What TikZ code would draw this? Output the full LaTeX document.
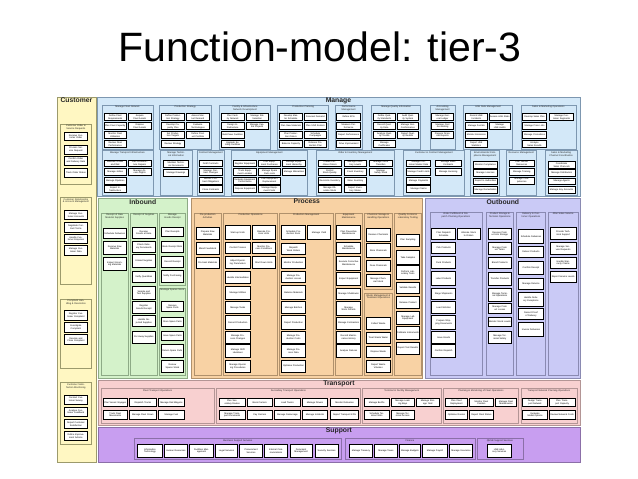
\documentclass[tikz,border=0pt]{standalone}
\usepackage{fontspec}
\setmainfont{Liberation Sans}
\definecolor{custfill}{HTML}{FFF7C2}
\definecolor{custline}{HTML}{9C9A6C}
\definecolor{manfill}{HTML}{D3E8F8}
\definecolor{manline}{HTML}{7D97B0}
\definecolor{inbfill}{HTML}{D4F2CA}
\definecolor{inbline}{HTML}{8DAA86}
\definecolor{profill}{HTML}{F8D2A4}
\definecolor{proline}{HTML}{B0916C}
\definecolor{outbfill}{HTML}{CACAF6}
\definecolor{outbline}{HTML}{8A8AB2}
\definecolor{trafill}{HTML}{F8D0D0}
\definecolor{traline}{HTML}{B39595}
\definecolor{supfill}{HTML}{C89EF0}
\definecolor{supline}{HTML}{8B6FA8}
\newcommand\boxfont{\fontsize{2.3}{2.6}\selectfont}
\newcommand\gfont{\fontsize{2.4}{2.8}\selectfont}
\def\custmode{0}
\newcommand\ymap[2]{%
  \pgfmathparse{#2}\let\qv\pgfmathresult
  \ifnum\custmode=1
    \pgfmathsetmacro#1{97+(\qv-99)*1.116}%
  \else
    \pgfmathsetmacro#1{\qv<=218.5 ? 97+(\qv-99)*0.839 : (\qv<=351.5 ? 198+(\qv-220)*1.385 : (\qv<=396 ? 380+(\qv-353)*1.071 : 427+(\qv-397)*1.167))}%
  \fi}
\newcommand\N[7][]{%
  \pgfmathsetmacro\qxa{57+(#3-59)*1.0215}%
  \pgfmathsetmacro\qxb{57+(#5-59)*1.0215}%
  \ymap\qya{#4}\ymap\qyb{#6}%
  \pgfmathsetmacro\qw{\qxb-\qxa}%
  \pgfmathsetmacro\qh{\qyb-\qya}%
  \pgfmathsetmacro\qx{(\qxa+\qxb)/2}%
  \pgfmathsetmacro\qy{(\qya+\qyb)/2}%
  \pgfmathsetmacro\qt{max(\qw-1.4,1)}%
  \node[#1, minimum width=\qw pt, minimum height=\qh pt, text width=\qt pt] (#2) at (\qx,\qy) {#7};%
}
\newcommand\Band[8]{%
  \N[band, fill=#7, draw=#8]{#1}{#2}{#3}{#4}{#5}{}%
  \node[blab, anchor=north] (#1t) at ([yshift=-1.3pt]#1.north) {#6};%
}
\newcommand\G[6]{%
  \N[grp]{#1}{#2}{#3}{#4}{#5}{}%
  \pgfmathsetmacro\qt{\qw-2.5}%
  \node[gttl, text width=\qt pt, anchor=north] (#1t) at ([yshift=-0.9pt]#1.north) {#6};%
}
\newcommand\Stack[7]{\foreach \tx [count=\ii] in {#7} {\pgfmathsetmacro\ya{#4+(\ii-1)*#5}\pgfmathsetmacro\yb{\ya+#6}\N[bx]{#1\ii}{#2}{\ya}{#3}{\yb}{\tx}}}
\newcommand\Col[4]{\foreach \ya/\yb/\tx [count=\ii] in {#4} {\N[bx]{#1\ii}{#2}{\ya}{#3}{\yb}{\tx}}}
\newcommand\Row[4]{\foreach \xa/\xb/\tx [count=\ii] in {#4} {\N[bx]{#1\ii}{\xa}{#2}{\xb}{#3}{\tx}}}
\begin{document}
\begin{tikzpicture}[x=1pt,y=-1pt,
  band/.style={line width=0.6pt, inner sep=0},
  grp/.style={draw=\gc, line width=0.5pt, inner sep=0},
  bx/.style={draw=black, fill=white, line width=0.8pt, inner sep=0.2pt, align=center, font=\boxfont},
  gttl/.style={font=\gfont, align=center, inner sep=0, text=black!85},
  blab/.style={font=\bfseries\fontsize{6.8}{7}\selectfont, inner sep=0, text=black!85},
  ttl/.style={font=\fontsize{41}{48}\selectfont, inner sep=0}]
\useasboundingbox (0,0) rectangle (638,479);
\fill[white] (0,0) rectangle (638,479);
\node[ttl] (title) at (320,47) {Function-model: tier-3};

% ---------------- Customer
\def\custmode{1}
\Band{cust}{59}{99}{97}{426}{Customer}{custfill}{custline}
\def\gc{custline}
\G{cg1}{62}{123}{93}{177}{Customer Order \& Service Requests}
\Col{cg1b}{66}{89}{131/138/Receive Customer Order, 142/150/Process Service Request, 152/160/Confirm Order and Delivery Date, 163/171/Track Order Status}
\G{cg2}{62}{189}{93}{267}{Customer Relationship \& Account Management}
\Col{cg2b}{66}{89}{201/209/Manage Customer Accounts, 211/220/Negotiate Contract Terms, 222/230/Handle Customer Enquiries, 232/241/Manage Customer Data}
\G{cg3}{62}{280}{93}{342}{Complaint Handling \& Resolution}
\Col{cg3b}{66}{89}{290/299/Register Customer Complaint, 301/310/Investigate Complaint, 312/321/Resolve and Close Complaint}
\G{cg4}{62}{355}{93}{410}{Customer Satisfaction Monitoring}
\Col{cg4b}{66}{89}{366/374/Conduct Customer Survey, 377/385/Analyse Customer Feedback, 388/396/Report Customer Satisfaction, 399/407/Define Improvement Actions}
\def\custmode{0}

% ---------------- Manage
\Band{man}{98}{99}{571}{217}{Manage}{manfill}{manline}
\def\gc{manline}
\G{m1}{103}{109}{153}{161}{Manage Fleet Network}
\Stack{m1a}{105}{127}{119}{10.7}{8}{Define Fleet Requirements, Plan Fleet Capacity, Monitor Fleet Utilisation, Review Fleet Performance}
\Stack{m1b}{129}{151}{119}{10.7}{8}{Acquire Fleet Assets, Dispose Fleet Assets}
\G{m2}{159}{109}{210}{161}{Production Strategy}
\Stack{m2a}{161}{184}{119}{10.7}{8}{Define Production Strategy, Develop Capacity Plan, Set Production Targets, Review Strategy}
\Stack{m2b}{186}{208}{119}{10.7}{8}{Assess Market Demand, Evaluate Technologies, Define Product Portfolio}
\G{m3}{218}{109}{268}{161}{Facility \& Infrastructure Network Development}
\Stack{m3a}{220}{242}{119}{10.7}{8}{Plan Facility Network, Design Infrastructure, Build New Facilities, Upgrade Existing Facilities}
\Stack{m3b}{244}{266}{119}{10.7}{8}{Manage Site Selection, Manage Capital Projects}
\G{m4}{275}{109}{325}{161}{Production Planning}
\Stack{m4a}{277}{299}{119}{10.7}{8}{Develop Master Schedule, Plan Raw Materials, Plan Production Orders, Balance Capacity}
\Stack{m4b}{301}{323}{119}{10.7}{8}{Forecast Demand, Plan Shift Rosters, Schedule Campaigns, Release Production Plan}
\G{m5}{331}{109}{358}{161}{Performance Management}
\Stack{m5a}{333}{356}{119}{10.7}{8}{Define KPIs, Measure Performance, Report Performance, Drive Improvement}
\G{m6}{367}{109}{415}{161}{Manage Quality Information}
\Stack{m6a}{369}{390}{119}{10.7}{8}{Define Quality Standards, Record Quality Data, Analyse Quality Trends, Manage Certificates}
\Stack{m6b}{392}{413}{119}{10.7}{8}{Audit Quality System, Manage Non-Conformance, Report Quality Results}
\G{m7}{424}{109}{449}{161}{Accounting Management}
\Stack{m7a}{426}{447}{119}{10.7}{8}{Manage General Ledger, Manage Cost Accounting, Prepare Financial Reports}
\G{m8}{457}{109}{505}{161}{HSE Data Management}
\Stack{m8a}{459}{480}{119}{10.7}{8}{Record HSE Incidents, Manage Permits, Monitor Emissions, Report HSE Statistics}
\Stack{m8b}{482}{503}{119}{10.7}{8}{Assess HSE Risks, Manage HSE Audits}
\G{m9}{513}{109}{567}{161}{Sales \& Marketing Operations}
\Stack{m9a}{515}{538}{119}{10.7}{8}{Develop Sales Plan, Manage Price Lists, Manage Promotions, Analyse Sales Results}
\Stack{m9b}{541}{565}{119}{10.7}{8}{Manage Customer Segments}

\G{n1}{103}{163}{153}{216}{Manage Transport Infrastructure}
\Stack{n1a}{105}{127}{174}{10.3}{8.3}{Maintain Roads and Rail, Manage Jetties, Manage Pipelines, Inspect Infrastructure}
\Stack{n1b}{129}{151}{174}{10.3}{8.3}{Plan Infrastructure Repairs, Manage Access Rights}
\G{n2}{160}{163}{191}{216}{Manage Technical Information}
\Stack{n2a}{163}{188}{175}{10.3}{8.3}{Maintain Technical Documents, Manage Drawings}
\G{n3}{196}{163}{223}{216}{Contract Management}
\Stack{n3a}{198}{221}{174}{10.3}{8.3}{Draft Contracts, Manage Contract Changes, Monitor Contract Obligations, Close Contracts}
\G{n4}{230}{163}{304}{216}{Equipment Management}
\Stack{n4a}{232}{254}{174}{10.3}{8.3}{Register Equipment, Track Equipment Location, Evaluate Equipment Performance, Dispose Equipment}
\Stack{n4b}{256}{278}{174}{10.3}{8.3}{Plan Equipment Purchases, Manage Spare Parts Lists, Plan Equipment Replacement, Manage Equipment Costs}
\Stack{n4c}{280}{302}{174}{10.3}{8.3}{Manage Equipment Hierarchy, Manage Warranties}
\G{n5}{313}{163}{389}{216}{Order \& Inventory Management}
\Stack{n5a}{315}{337}{174}{10.3}{8.3}{Create Purchase Orders, Control Stock Quality, Reconcile Inventory, Manage Obsolete Stock}
\Stack{n5b}{340}{362}{174}{10.3}{8.3}{Manage Inventory Levels, Count Inventory, Value Inventory, Report Inventory Status}
\Stack{n5c}{365}{387}{174}{10.3}{8.3}{Manage Stock Transfers, Manage Safety Stock}
\G{n6}{398}{163}{458}{216}{Customer \& Contract Management}
\Stack{n6a}{401}{425}{174}{10.3}{8.3}{Manage Customer Master Data, Manage Credit Limits, Manage Payments, Manage Claims}
\Stack{n6b}{429}{455}{174}{10.3}{8.3}{Manage Sales Contracts, Manage Invoicing}
\G{n7}{464}{163}{492}{216}{Environmental Compliance Management}
\Stack{n7a}{467}{490}{176}{9.8}{8}{Monitor Compliance, Manage Licences, Report to Authorities, Manage Remediation}
\G{n8}{499}{163}{528}{216}{Resource Management}
\Stack{n8a}{502}{526}{174}{10.3}{8.3}{Plan Human Resources, Manage Training, Manage Competences}
\G{n9}{537}{163}{568}{216}{Sales \& Marketing Channel Coordination}
\Stack{n9a}{540}{566}{176}{9.8}{8}{Coordinate Sales Channels, Manage Distributors, Manage Agents, Manage Key Accounts}

% ---------------- Inbound
\Band{inb}{99}{220}{187}{350}{Inbound}{inbfill}{inbline}
\def\gc{inbline}
\G{i1}{102}{231}{129}{348}{Receipt of Raw Material Supplies}
\Col{i1b}{104}{127}{242/249/Schedule Deliveries, 251/261/Receive Raw Materials, 263/272/Inspect Incoming Materials}
\G{i2}{131}{231}{157}{348}{Receipt of Supplies}
\Col{i2b}{133}{155}{241/249/Receive Goods at Gate, 251/259/Check Delivery Documents, 261/270/Unload Supplies, 273/281/Verify Quantities, 284/293/Sample and Test Supplies, 295/303/Register Goods Receipt, 305/313/Handle Rejected Supplies, 316/325/Put Away Supplies}
\G{i3}{159}{231}{185}{283}{Manage Goods Receipt}
\Col{i3b}{161}{183}{241/248/Plan Receipts, 251/259/Book Receipt Slots, 262/270/Record Receipt, 272/281/Notify Purchasing}
\G{i4}{159}{285}{185}{348}{Manage Spares Stock}
\Col{i4b}{161}{183}{295/302/Receive Spare Parts, 306/313/Store Spare Parts, 316/323/Issue Spare Parts, 326/335/Return Spare Parts, 337/346/Review Spares Stock}

% ---------------- Process
\Band{pro}{190}{220}{417}{350}{Process}{profill}{proline}
\def\gc{proline}
\G{p1}{193}{231}{220}{348}{Pre-production Activities}
\Col{p1b}{195}{218}{241/250/Prepare Raw Materials, 252/261/Blend Feedstock, 263/271/Pre-treat Materials}
\G{p2}{222}{231}{275}{348}{Production Operations}
\Col{p2a}{224}{248}{240/250/Start-up Units, 252/260/Control Process, 262/271/Adjust Operating Parameters, 273/282/Handle Intermediates, 284/293/Manage Utilities, 295/303/Manage Tanks, 305/315/Record Production, 316/325/Manage Process Changes, 326/335/Manage Shift Handover, 337/346/Manage Operating Procedures}
\Col{p2b}{250}{273}{240/250/Operate Process Units, 252/260/Monitor Process Conditions, 262/271/Shut Down Units}
\G{p3}{277}{231}{329}{348}{Production Management}
\Col{p3a}{279}{302}{240/250/Schedule Production Runs, 253/261/Dispatch Work Orders, 263/271/Monitor Production, 273/281/Manage Production Losses, 283/293/Balance Materials, 295/303/Manage Batches, 305/315/Report Production, 316/325/Manage Production Costs, 326/335/Manage Process Data, 337/346/Optimise Production}
\Col{p3b}{304}{327}{240/250/Manage Yield}
\G{p4}{331}{231}{358}{348}{Equipment Maintenance}
\Col{p4b}{333}{356}{240/250/Plan Preventive Maintenance, 252/260/Schedule Maintenance, 262/272/Execute Corrective Maintenance, 274/283/Inspect Equipment, 285/293/Manage Shutdowns, 295/305/Manage Work Permits, 306/315/Manage Contractors, 316/325/Record Maintenance History, 326/335/Analyse Failures}
\G{p5}{360}{231}{387}{286}{Chemical Storage \& Handling Operations}
\Col{p5b}{362}{385}{242/251/Receive Chemicals, 253/263/Store Chemicals, 265/273/Dose Chemicals, 275/284/Manage Chemical Stock}
\G{p6}{360}{289}{387}{348}{Waste Management \& Treatment Operations}
\Col{p6b}{362}{385}{306/315/Collect Waste, 317/325/Treat Waste Water, 327/335/Dispose Waste, 337/346/Report Waste Volumes}
\G{p7}{389}{231}{416}{348}{Quality Control \& Laboratory Testing}
\Col{p7b}{391}{414}{246/255/Plan Sampling, 258/268/Take Samples, 269/279/Perform Laboratory Tests, 281/289/Validate Results, 291/300/Release Product, 302/311/Manage Lab Equipment, 313/322/Calibrate Instruments, 324/333/Report Test Results}

% ---------------- Outbound
\Band{outb}{420}{220}{571}{350}{Outbound}{outbfill}{outbline}
\def\gc{outbline}
\G{o1}{424}{230}{475}{348}{Order Fulfilment \& Dispatch Planning Operations}
\Col{o1a}{426}{449}{242/250/Plan Dispatch Schedule, 252/260/Pick Products, 262/271/Pack Products, 273/283/Label Products, 285/293/Stage Shipments, 295/303/Load Vehicles, 305/315/Prepare Shipping Documents, 316/325/Issue Goods, 326/335/Confirm Dispatch}
\Col{o1b}{451}{473}{242/250/Allocate Stock to Orders}
\G{o2}{479}{230}{506}{348}{Product Storage \& Terminal Operations}
\Col{o2b}{481}{504}{242/250/Receive Product into Storage, 252/261/Manage Product Tanks, 263/271/Blend Products, 274/283/Transfer Products, 285/295/Manage Terminal Operations, 296/303/Manage Product Losses, 306/313/Monitor Stock Levels, 316/325/Manage Terminal Safety}
\G{o3}{509}{230}{537}{348}{Delivery to Customer Operations}
\Col{o3b}{511}{535}{243/253/Schedule Deliveries, 255/263/Deliver Products, 266/275/Confirm Receipt, 278/286/Manage Returns, 288/298/Handle Delivery Exceptions, 300/308/Record Proof of Delivery, 310/320/Invoice Deliveries}
\G{o4}{540}{230}{569}{348}{After Sales Service}
\Col{o4b}{542}{567}{241/250/Provide Technical Support, 252/261/Manage Service Requests, 263/271/Handle Warranty Claims, 273/281/Report Service Levels}

% ---------------- Transport
\Band{tra}{99}{353}{571}{395}{Transport}{trafill}{traline}
\def\gc{traline}
\G{t1}{102}{361}{213}{393}{Fleet Transport Operations}
\Row{t1a}{370}{378}{104/128/Plan Vessel Voyages, 130/156/Dispatch Trucks, 158/184/Manage Rail Wagons}
\Row{t1b}{381}{390}{104/128/Track Fleet Movements, 130/156/Manage Fleet Crews, 158/184/Manage Fuel}
\G{t2}{215}{361}{356}{393}{Secondary Transport Operations}
\Row{t2a}{370}{378}{218/243/Plan Secondary Routes, 245/270/Book Carriers, 272/297/Load Trucks, 299/324/Manage Drivers, 327/354/Monitor Deliveries}
\Row{t2b}{381}{390}{218/243/Manage Transport Documents, 245/270/Pay Carriers, 272/297/Manage Demurrage, 299/324/Manage Incidents, 327/354/Report Transport KPIs}
\G{t3}{358}{361}{435}{393}{Terminal \& Facility Management}
\Row{t3a}{370}{378}{360/384/Manage Berths, 386/409/Manage Loading Bays, 411/433/Manage Storage Yard}
\Row{t3b}{381}{390}{360/384/Schedule Terminal Slots, 386/409/Manage Terminal Access}
\G{t4}{437}{361}{511}{393}{Planning \& Monitoring of Fleet Operations}
\Row{t4a}{370}{378}{439/461/Plan Fleet Deployment, 463/486/Monitor Fleet Position, 488/509/Manage Fleet Maintenance}
\Row{t4b}{381}{390}{439/461/Optimise Routes, 463/486/Report Fleet Status}
\G{t5}{513}{361}{568}{393}{Transport Network Planning Operations}
\Row{t5a}{370}{378}{515/539/Design Transport Network, 541/566/Plan Transport Capacity}
\Row{t5b}{381}{390}{515/539/Evaluate Modal Options, 541/566/Review Network Costs}

% ---------------- Support
\Band{sup}{99}{397}{571}{427}{Support}{supfill}{supline}
\def\gc{supline}
\G{s1}{135}{407}{337}{425}{Business Support Services}
\Row{s1a}{412}{423}{138/162/Information Technology, 164/187/Human Resources, 189/212/Facilities Management, 214/236/Legal Services, 238/260/Procurement Services, 262/285/Internal Communications, 287/309/Document Management, 312/334/Security Services}
\G{s2}{341}{407}{468}{425}{Finance}
\Row{s2a}{412}{423}{345/368/Manage Treasury, 370/392/Manage Taxes, 394/415/Manage Budgets, 417/441/Manage Payroll, 443/466/Manage Insurance}
\G{s3}{470}{407}{515}{425}{QHSE Support Services}
\Row{s3a}{412}{423}{480/504/HSE Advisory Services}
\end{tikzpicture}
\end{document}
